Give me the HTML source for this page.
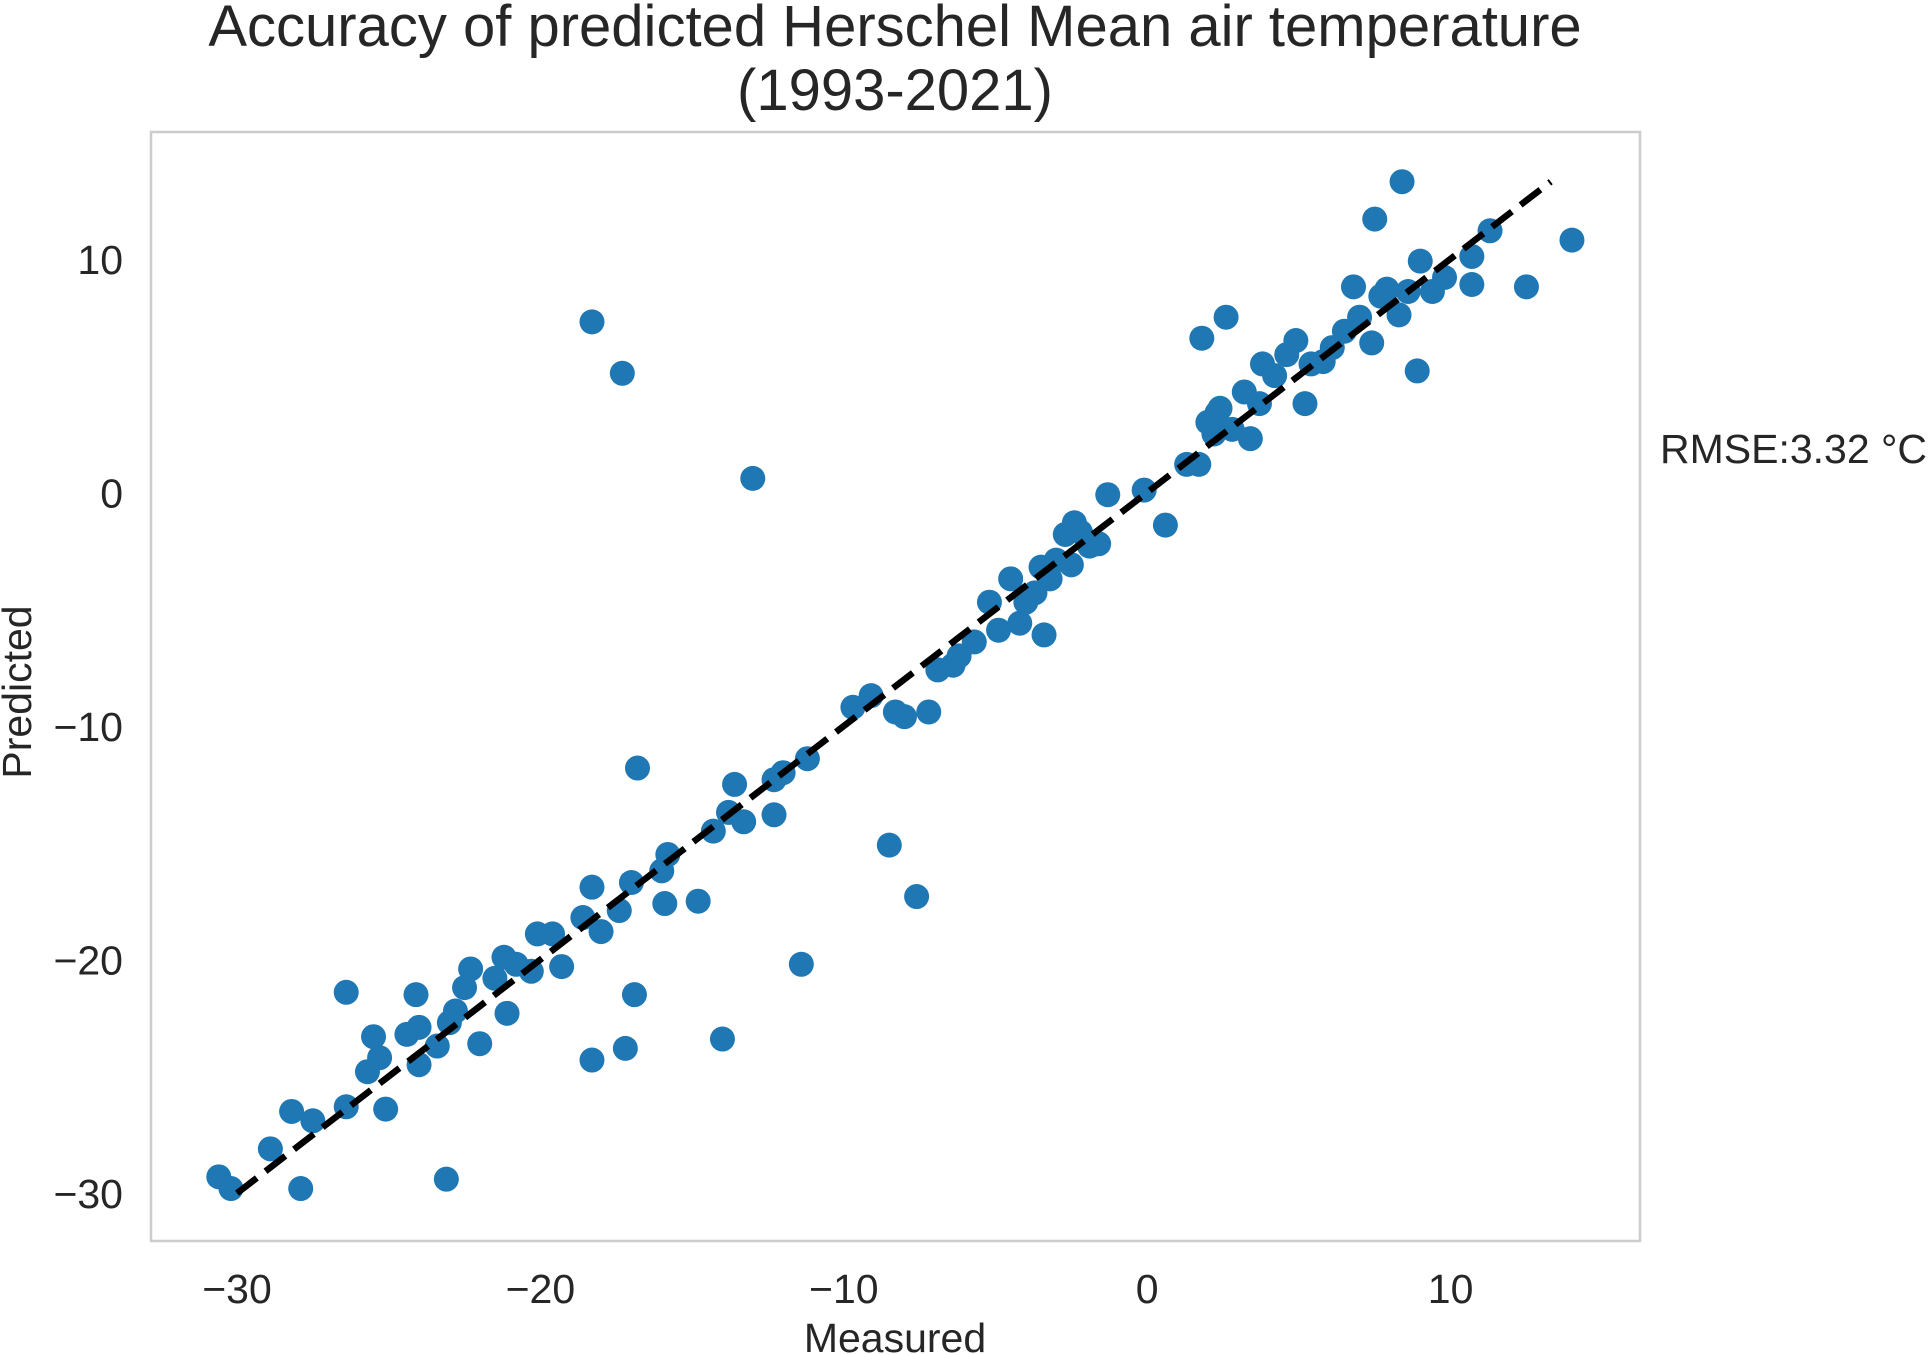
<!DOCTYPE html>
<html><head><meta charset="utf-8"><style>
html,body{margin:0;padding:0;background:#fff;}
svg{display:block;font-family:"Liberation Sans",Arial,sans-serif;}
</style></head><body>
<svg id="chart" width="1930" height="1355" viewBox="0 0 1930 1355">
<rect x="0" y="0" width="1930" height="1355" fill="#fff"/>
<text x="895" y="46" text-anchor="middle" font-size="58" fill="#262626">Accuracy of predicted Herschel Mean air temperature</text>
<text x="895" y="110" text-anchor="middle" font-size="58" fill="#262626">(1993-2021)</text>
<g id="plot"></g>
<rect x="151" y="132" width="1489" height="1109" fill="none" stroke="#cccccc" stroke-width="2.5"/>
<g id="xticks"></g>
<g id="yticks"></g>
<text x="895" y="1352" text-anchor="middle" font-size="41" fill="#262626">Measured</text>
<text transform="translate(31,692) rotate(-90)" text-anchor="middle" font-size="41" fill="#262626">Predicted</text>
<text x="1660" y="463" font-size="41" fill="#262626">RMSE:3.32 °C</text>
</svg>
<script>
const measured = [-30.6,-30.2,-28.9,-28.2,-27.9,-27.5,-26.4,-26.4,-25.7,-25.5,-25.3,-25.1,-24.4,-24.1,-24.0,-24.0,-23.4,-23.1,-23.0,-22.8,-22.5,-22.3,-22.0,-21.5,-21.2,-21.1,-20.8,-20.3,-20.1,-19.6,-19.3,-18.6,-18.3,-18.3,-18.3,-18.0,-17.3,-17.4,-17.2,-17.0,-16.9,-16.8,-16.0,-15.8,-15.9,-14.8,-14.3,-14.0,-13.8,-13.6,-13.3,-13.0,-12.3,-12.3,-12.0,-11.4,-11.2,-9.7,-9.1,-8.5,-8.3,-8.0,-7.6,-7.2,-6.9,-6.4,-6.2,-5.7,-5.2,-4.9,-4.5,-4.2,-4.0,-3.7,-3.5,-3.4,-3.2,-3.0,-2.7,-2.4,-2.5,-2.2,-1.9,-1.6,-1.3,-0.1,0.6,1.3,1.7,1.8,2.0,2.2,2.3,2.4,2.6,2.8,3.2,3.4,3.7,3.8,4.2,4.6,4.9,5.2,5.4,5.8,6.1,6.5,6.8,7.0,7.4,7.5,7.7,7.9,8.3,8.4,8.6,8.9,9.0,9.4,9.8,10.7,10.7,11.3,12.5,14.0];
const predicted = [-29.3,-29.8,-28.1,-26.5,-29.8,-26.9,-21.4,-26.3,-24.8,-23.3,-24.2,-26.4,-23.2,-21.5,-24.5,-22.9,-23.7,-29.4,-22.7,-22.2,-21.2,-20.4,-23.6,-20.8,-19.9,-22.3,-20.2,-20.5,-18.9,-18.9,-20.3,-18.2,-16.9,-24.3,7.3,-18.8,5.1,-17.9,-23.8,-16.7,-21.5,-11.8,-16.2,-15.5,-17.6,-17.5,-14.5,-23.4,-13.7,-12.5,-14.1,0.6,-13.8,-12.3,-12.0,-20.2,-11.4,-9.2,-8.7,-15.1,-9.4,-9.6,-17.3,-9.4,-7.6,-7.4,-7.0,-6.4,-4.7,-5.9,-3.7,-5.6,-4.7,-4.3,-3.2,-6.1,-3.7,-2.9,-1.8,-1.3,-3.1,-1.7,-2.3,-2.2,-0.1,0.1,-1.4,1.2,1.2,6.6,3.0,2.5,3.4,3.6,7.5,2.7,4.3,2.3,3.8,5.5,5.0,5.9,6.5,3.8,5.5,5.6,6.2,6.9,8.8,7.5,6.4,11.7,8.4,8.7,7.6,13.3,8.6,5.2,9.9,8.6,9.2,8.9,10.1,11.2,8.8,10.8];
const xTicks = [-30,-20,-10,0,10];
const yTicks = [10,0,-10,-20,-30];
const xTickLabels = ["\u221230","\u221220","\u221210","0","10"];
const yTickLabels = ["10","0","\u221210","\u221220","\u221230"];
const fitLine = [-30, 13.3];

const NS = "http://www.w3.org/2000/svg";
function xs(v){ return 1147.2 + v*30.34; }
function ys(v){ return 492.4 - v*23.36; }
const plot = document.getElementById('plot');
for (let i=0;i<measured.length;i++){
  const c = document.createElementNS(NS,'circle');
  c.setAttribute('cx', xs(measured[i]));
  c.setAttribute('cy', ys(predicted[i]));
  c.setAttribute('r', 12.5);
  c.setAttribute('fill', '#1f77b4');
  
  
  plot.appendChild(c);
}
const ln = document.createElementNS(NS,'line');
ln.setAttribute('x1', xs(fitLine[0])); ln.setAttribute('y1', ys(fitLine[0]));
ln.setAttribute('x2', xs(fitLine[1])); ln.setAttribute('y2', ys(fitLine[1]));
ln.setAttribute('stroke', '#000'); ln.setAttribute('stroke-width', 6.5);
ln.setAttribute('stroke-dasharray', '25 11');


plot.appendChild(ln);

const xg = document.getElementById('xticks');
xTicks.forEach((t,i)=>{
  const tx = document.createElementNS(NS,'text');
  tx.setAttribute('x', xs(t)); tx.setAttribute('y', 1303);
  tx.setAttribute('text-anchor','middle'); tx.setAttribute('font-size','41'); tx.setAttribute('fill','#262626');
  tx.textContent = xTickLabels[i];
  
  
  xg.appendChild(tx);
});
const yg = document.getElementById('yticks');
yTicks.forEach((t,i)=>{
  const tx = document.createElementNS(NS,'text');
  tx.setAttribute('x', 123); tx.setAttribute('y', ys(t)+15);
  tx.setAttribute('text-anchor','end'); tx.setAttribute('font-size','41'); tx.setAttribute('fill','#262626');
  tx.textContent = yTickLabels[i];
  
  
  yg.appendChild(tx);
});
</script>
</body></html>
